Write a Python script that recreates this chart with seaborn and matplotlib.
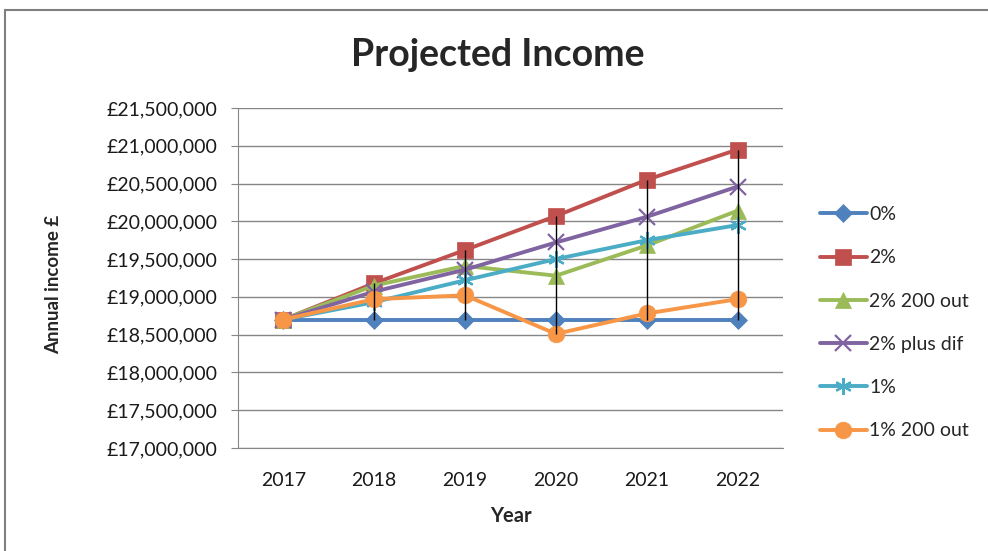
import matplotlib
matplotlib.use("Agg")
import matplotlib.pyplot as plt
import seaborn as sns
import pandas as pd
import numpy as np
from matplotlib.ticker import FuncFormatter, MultipleLocator
from matplotlib.patches import Rectangle

years = ["2017", "2018", "2019", "2020", "2021", "2022"]
series_names = ["0%", "2%", "2% 200 out", "2% plus dif", "1%", "1% 200 out"]
zero_pct = [18700000, 18700000, 18700000, 18700000, 18700000, 18700000]
two_pct = [18700000, 19180000, 19620000, 20070000, 20550000, 20950000]
two_pct_200_out = [18700000, 19150000, 19410000, 19280000, 19680000, 20140000]
two_pct_plus_dif = [18700000, 19070000, 19360000, 19720000, 20060000, 20460000]
one_pct = [18700000, 18930000, 19220000, 19500000, 19750000, 19950000]
one_pct_200_out = [18700000, 18970000, 19020000, 18510000, 18780000, 18970000]

all_values = [zero_pct, two_pct, two_pct_200_out, two_pct_plus_dif, one_pct, one_pct_200_out]
colors = ["#4F81BD", "#C0504D", "#9BBB59", "#8064A2", "#4BACC6", "#F79646"]
markers = ["D", "s", "^", "x", (6, 2, 0), "o"]
msizes = [9, 11, 11, 12, 12, 12]

df = pd.DataFrame({
    "Year": years * len(series_names),
    "Series": [s for s in series_names for _ in years],
    "Income": [v for vals in all_values for v in vals],
})

sns.set_style("white")
plt.rcParams["font.family"] = ["Lato", "DejaVu Sans"]

fig = plt.figure(figsize=(9.88, 5.51), dpi=100)
ax = fig.add_axes([0.2409, 0.187, 0.5516, 0.617])

for name, col, mk, ms in zip(series_names, colors, markers, msizes):
    sub = df[df["Series"] == name]
    sns.lineplot(data=sub, x="Year", y="Income", ax=ax, color=col, linewidth=2.8,
                 marker=mk, markersize=ms, markeredgecolor=col,
                 markeredgewidth=1.6 if mk in ("x", (6, 2, 0)) else 0.5,
                 label=name, sort=False)

# high-low lines
arr = np.array(all_values)
xpos = np.arange(len(years))
ax.vlines(xpos, arr.min(axis=0), arr.max(axis=0), color="black", linewidth=1.0, zorder=5)

ax.set_xlim(-0.5, len(years) - 0.5)
ax.set_ylim(17000000, 21500000)
ax.yaxis.set_major_locator(MultipleLocator(500000))
ax.yaxis.set_major_formatter(FuncFormatter(lambda v, p: "£{:,.0f}".format(v)))
ax.grid(axis="y", color="#868686", linewidth=1.0)
ax.set_axisbelow(True)
for s in ["top", "right"]:
    ax.spines[s].set_visible(False)
ax.spines["left"].set_color("#868686")
ax.spines["bottom"].set_color("#868686")
ax.tick_params(axis="y", which="major", left=True, length=5, color="#868686",
               labelsize=14, labelcolor="#1a1a1a", pad=10)
ax.tick_params(axis="x", bottom=False, labelsize=14, labelcolor="#1a1a1a", pad=14)

ax.set_xlabel("Year", fontsize=14.5, fontweight="bold", labelpad=12)
ax.set_ylabel("Annual income £", fontsize=13.5, fontweight="bold")
ax.yaxis.set_label_coords(-0.322, 0.48)

fig.text(0.5035, 0.9, "Projected Income", ha="center", va="center",
         fontsize=27, fontweight="bold")

leg = ax.legend(loc="upper left", bbox_to_anchor=(0.822, 0.64),
                bbox_transform=fig.transFigure, frameon=False, fontsize=14,
                handlelength=2.4, handletextpad=0.15, labelspacing=1.35,
                borderaxespad=0)

fig.patches.append(Rectangle((5 / 988, -0.05), 1.1, 1 - 10 / 551 + 0.05,
                             transform=fig.transFigure, fill=False,
                             edgecolor="#7f7f7f", linewidth=1.5))

fig.savefig("out.png", dpi=100)
